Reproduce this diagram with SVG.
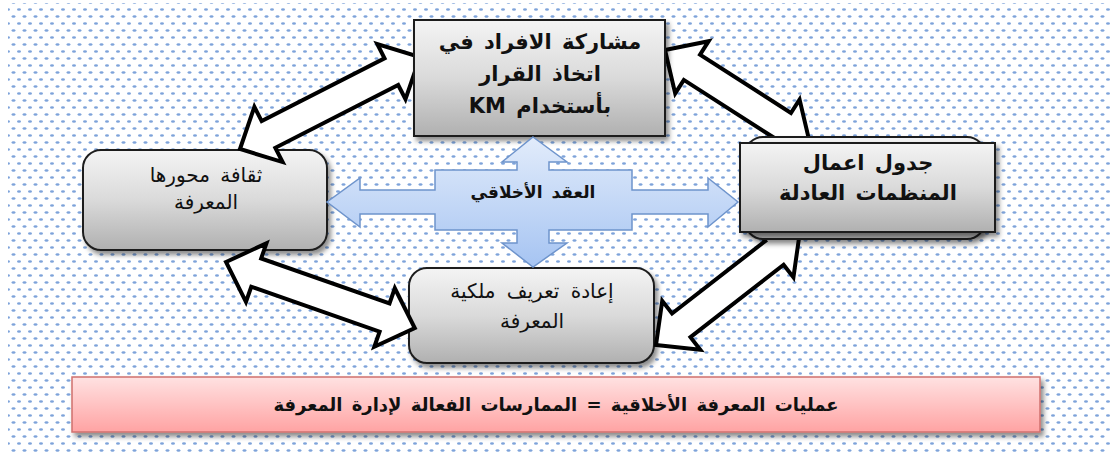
<svg xmlns="http://www.w3.org/2000/svg" width="1110" height="453" viewBox="0 0 1110 453">
<defs>
<pattern id="dots" width="11" height="14" patternUnits="userSpaceOnUse">
<ellipse cx="2.5" cy="2.5" rx="2" ry="1.3" fill="#7ea3da"/>
<ellipse cx="8" cy="9.5" rx="2" ry="1.3" fill="#7ea3da"/>
</pattern>
<linearGradient id="gray" x1="0" y1="0" x2="0" y2="1">
<stop offset="0" stop-color="#f4f4f4"/>
<stop offset="0.5" stop-color="#dadada"/>
<stop offset="1" stop-color="#b0b0b0"/>
</linearGradient>
<linearGradient id="blue" x1="0" y1="0" x2="0" y2="1">
<stop offset="0" stop-color="#e2ecfb"/>
<stop offset="1" stop-color="#a6c4f2"/>
</linearGradient>
<linearGradient id="pink" x1="0" y1="0" x2="0" y2="1">
<stop offset="0" stop-color="#ffe2e2"/>
<stop offset="1" stop-color="#ffa3a3"/>
</linearGradient>
<filter id="sh" x="-10%" y="-10%" width="125%" height="130%">
<feDropShadow dx="3" dy="4" stdDeviation="2.5" flood-color="#000" flood-opacity="0.45"/>
</filter>
<style>
.node{fill:url(#gray);stroke:#1e1e1e;stroke-width:2;filter:url(#sh)}
.arr{fill:#fff;stroke:#000;stroke-width:4;stroke-linejoin:miter}
.t{font-family:'DejaVu Sans','Liberation Sans',sans-serif;fill:#111;text-anchor:middle;direction:rtl}
.b{font-weight:bold}
</style>
</defs>
<rect x="0" y="0" width="1110" height="453" fill="#fff"/>
<rect x="8" y="3" width="1102" height="450" fill="url(#dots)"/>

<g id="result">
<rect x="72" y="377" width="968" height="55" fill="url(#pink)" stroke="#d0706e" stroke-width="1.5" filter="url(#sh)"/>
<text class="t b" x="556" y="411" font-size="18" word-spacing="3">عمليات المعرفة الأخلاقية = الممارسات الفعالة لإدارة المعرفة</text>
</g>

<g id="culture">
<rect class="node" x="83" y="150" width="244" height="100" rx="18"/>
<text class="t" x="206" y="182" font-size="20" word-spacing="4">ثقافة محورها</text>
<text class="t" x="206" y="209" font-size="20">المعرفة</text>
</g>

<g id="ownership">
<rect class="node" x="409" y="268" width="245" height="95" rx="18"/>
<text class="t" x="532" y="298" font-size="20" word-spacing="5">إعادة تعريف ملكية</text>
<text class="t" x="532" y="328" font-size="20">المعرفة</text>
</g>

<g id="connectors">
<polygon class="arr" transform="translate(240,149) rotate(-27.07)" points="0,0 32,-31 32,-15 170,-15 170,-31 202,0 170,31 170,15 32,15 32,31"/>
<polygon class="arr" transform="translate(665,50) rotate(32.68)" points="0,0 32,-31 32,-15 140,-15 140,-31 172,0 140,31 140,15 32,15 32,31"/>
<polygon class="arr" transform="translate(656,345) rotate(-37.87)" points="0,0 32,-31 32,-15 150,-15 150,-31 182,0 150,31 150,15 32,15 32,31"/>
<polygon class="arr" transform="translate(226,262) rotate(19.29)" points="0,0 32,-31 32,-15 168,-15 168,-31 200,0 168,31 168,15 32,15 32,31"/>
</g>

<g id="participation">
<rect class="node" x="414" y="20" width="251" height="116"/>
<text class="t b" x="540" y="49" font-size="21" word-spacing="3">مشاركة الافراد في</text>
<text class="t b" x="540" y="81" font-size="21" word-spacing="3">اتخاذ القرار</text>
<text class="t b" x="540" y="113" font-size="21" word-spacing="3">بأستخدام KM</text>
</g>

<g id="agenda">
<rect class="node" x="745" y="137" width="240" height="102" rx="18"/>
<rect class="node" x="740" y="143" width="255" height="89"/>
<text class="t b" x="868" y="170" font-size="21" word-spacing="3">جدول اعمال</text>
<text class="t b" x="868" y="200" font-size="21" word-spacing="3">المنظمات العادلة</text>
</g>

<g id="ethical-contract">
<polygon points="533,137 567,162 549,162 549,170 632,170 632,190 708,190 708,178 738,202 708,227 708,214 632,214 632,230 549,230 549,243 567,243 533,267 502,243 517,243 517,230 435,230 435,214 360,214 360,227 327,202 360,178 360,190 435,190 435,170 517,170 517,162 502,162" fill="url(#blue)" stroke="#6e94cc" stroke-width="1.5"/>
<text class="t b" x="533" y="198" font-size="17" word-spacing="3">العقد الأخلاقي</text>
</g>
</svg>
